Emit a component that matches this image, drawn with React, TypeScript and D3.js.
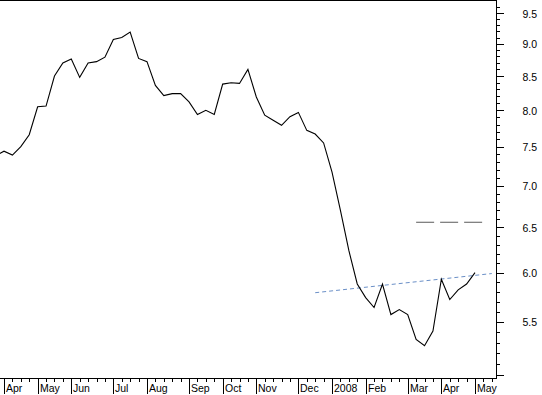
import * as d3 from 'd3';
import React from 'react';

// weekly closes (Fridays)
const weeks = [
  '2007-03-30', '2007-04-06', '2007-04-13', '2007-04-20', '2007-04-27',
  '2007-05-04', '2007-05-11', '2007-05-18', '2007-05-25',
  '2007-06-01', '2007-06-08', '2007-06-15', '2007-06-22', '2007-06-29',
  '2007-07-06', '2007-07-13', '2007-07-20', '2007-07-27',
  '2007-08-03', '2007-08-10', '2007-08-17', '2007-08-24', '2007-08-31',
  '2007-09-07', '2007-09-14', '2007-09-21', '2007-09-28',
  '2007-10-05', '2007-10-12', '2007-10-19', '2007-10-26',
  '2007-11-02', '2007-11-09', '2007-11-16', '2007-11-23', '2007-11-30',
  '2007-12-07', '2007-12-14', '2007-12-21', '2007-12-28',
  '2008-01-04', '2008-01-11', '2008-01-18', '2008-01-25',
  '2008-02-01', '2008-02-08', '2008-02-15', '2008-02-22', '2008-02-29',
  '2008-03-07', '2008-03-14', '2008-03-21', '2008-03-28',
  '2008-04-04', '2008-04-11', '2008-04-18', '2008-04-25',
  '2008-05-02',
];

const closes = [
  7.38, 7.44, 7.39, 7.50, 7.66,
  8.05, 8.06, 8.50, 8.70,
  8.76, 8.48, 8.70, 8.72, 8.79,
  9.07, 9.10, 9.19, 8.77,
  8.72, 8.36, 8.21, 8.24, 8.24,
  8.12, 7.94, 8.00, 7.94,
  8.38, 8.40, 8.39, 8.60,
  8.19, 7.93, 7.86, 7.79, 7.91,
  7.97, 7.72, 7.67, 7.55,
  7.17, 6.70, 6.24, 5.88,
  5.74, 5.64, 5.88, 5.57, 5.62,
  5.57, 5.33, 5.27, 5.41,
  5.93, 5.72, 5.82, 5.88,
  6.00,
];

// first week of each month gets a labelled tick
const monthTicks = [
  '2007-04-06', '2007-05-04', '2007-06-01', '2007-07-06', '2007-08-03',
  '2007-09-07', '2007-10-05', '2007-11-02', '2007-12-07', '2008-01-04',
  '2008-02-01', '2008-03-07', '2008-04-04', '2008-05-02',
];
const monthLabels = [
  'Apr', 'May', 'Jun', 'Jul', 'Aug', 'Sep', 'Oct', 'Nov', 'Dec', '2008',
  'Feb', 'Mar', 'Apr', 'May',
];

const yLabels = [5.5, 6.0, 6.5, 7.0, 7.5, 8.0, 8.5, 9.0, 9.5];

// drawn lines: [date, value]
const trendLine = [['2007-12-21', 5.79], ['2008-05-16', 5.99]];
const levelLine = [['2008-03-14', 6.56], ['2008-05-08', 6.56]];

const W = 542;
const H = 395;
const plotRight = 496;
const plotBottom = 378;
const font = '"Liberation Sans", Arial, sans-serif';

export default function App() {
  const parse = d3.utcParse('%Y-%m-%d');

  const x = d3.scaleUtc()
    .domain([parse('2007-04-06'), parse('2008-05-02')])
    .range([4, 475]);

  const y = d3.scaleLog()
    .domain([5.5, 9.5])
    .range([321.7, 13.3]);

  const data = weeks.map((d, i) => ({ date: parse(d), value: closes[i] }));

  const line = d3.line()
    .x(d => x(d.date))
    .y(d => y(d.value));

  const seg = (pts) => d3.line()
    .x(d => x(parse(d[0])))
    .y(d => y(d[1]))(pts);

  const weekTicks = d3.utcFriday.range(parse('2007-03-30'), parse('2008-05-17'));
  const yTicks = d3.range(50, 97).map(v => v / 10);

  return (
    <svg width={W} height={H} style={{ position: 'absolute', left: 0, top: 0, background: '#fff' }}>
      <defs>
        <clipPath id="plot">
          <rect x={0} y={0} width={plotRight} height={plotBottom} />
        </clipPath>
      </defs>

      {/* frame */}
      <g stroke="#000" strokeWidth={1} shapeRendering="crispEdges">
        <line x1={0} x2={plotRight} y1={0.5} y2={0.5} />
        <line x1={plotRight + 0.5} x2={plotRight + 0.5} y1={0} y2={plotBottom + 0.5} />
        <line x1={0} x2={plotRight + 0.5} y1={plotBottom + 0.5} y2={plotBottom + 0.5} />
      </g>

      {/* right axis */}
      <g stroke="#000" shapeRendering="crispEdges">
        {yTicks.map((v, i) => {
          const major = Math.round(v * 10) % 5 === 0;
          const yy = Math.round(y(v)) + 0.5;
          return <line key={i} x1={plotRight} x2={plotRight + (major ? 8 : 4)} y1={yy} y2={yy} />;
        })}
      </g>
      <g fontFamily={font} fontSize={10.5} fill="#000">
        {yLabels.map((v, i) => (
          <text key={i} x={522.5} y={y(v) + 4.5}>{d3.format('.1f')(v)}</text>
        ))}
      </g>

      {/* bottom axis */}
      <g stroke="#000" shapeRendering="crispEdges">
        {weekTicks.map((d, i) => {
          const xx = Math.round(x(d)) + 0.5;
          return <line key={i} x1={xx} x2={xx} y1={plotBottom} y2={plotBottom + 4} />;
        })}
        {monthTicks.map((d, i) => {
          const xx = Math.round(x(parse(d))) + 0.5;
          return <line key={'m' + i} x1={xx} x2={xx} y1={plotBottom} y2={394} />;
        })}
      </g>
      <g fontFamily={font} fontSize={10.5} fill="#000">
        {monthTicks.map((d, i) => (
          <text key={i} x={Math.round(x(parse(d))) + 2} y={392}>{monthLabels[i]}</text>
        ))}
      </g>

      <g clipPath="url(#plot)">
        <path d={seg(levelLine)} fill="none" stroke="#5a5a5a" strokeWidth={1} strokeDasharray="18 6" />
        <path d={seg(trendLine)} fill="none" stroke="#6a8fc7" strokeWidth={1} strokeDasharray="4 3" />
        <path d={line(data)} fill="none" stroke="#000" strokeWidth={1.1} />
      </g>
    </svg>
  );
}
